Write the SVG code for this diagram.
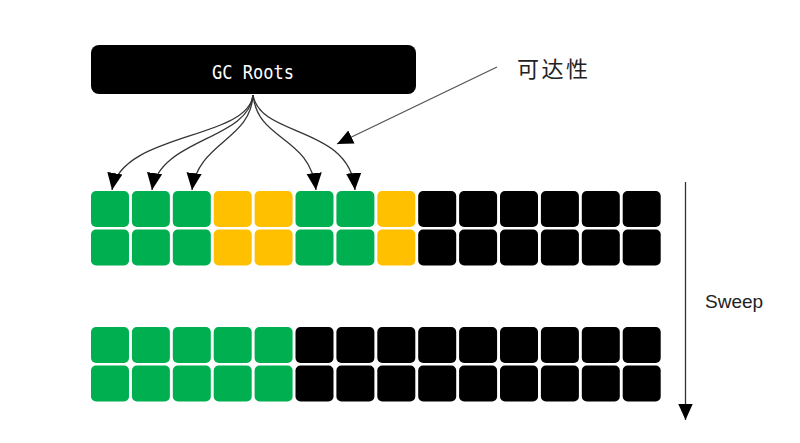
<svg xmlns="http://www.w3.org/2000/svg" width="800" height="443" viewBox="0 0 800 443">
<style>
.g{fill:#00B050}
.y{fill:#FFC000}
.k{fill:#000000}
.conn{fill:none;stroke:#333;stroke-width:1.3}
.ptr{fill:none;stroke:#555;stroke-width:1.3}
</style>
<defs>
<marker id="ah" viewBox="0 0 10 10" refX="10" refY="5" markerWidth="17" markerHeight="17" markerUnits="userSpaceOnUse" orient="auto"><path d="M0,0.5 L10,5 L0,9.5 z" fill="#000"/></marker>
<marker id="ah2" viewBox="0 0 10 10" refX="10" refY="5" markerWidth="16" markerHeight="16" markerUnits="userSpaceOnUse" orient="auto"><path d="M0,0.5 L10,5 L0,9.5 z" fill="#000"/></marker>
</defs>
<rect width="800" height="443" fill="#fff"/>
<g id="gc-roots">
<rect x="91" y="45" width="325" height="49" rx="8" fill="#000"/>
<text x="212" y="79" fill="#fff" font-family="DejaVu Sans Mono, Liberation Mono, monospace" font-size="19" textLength="82" lengthAdjust="spacingAndGlyphs">GC Roots</text>
</g>
<g id="label-reachability">
<text x="517" y="77" fill="#222" font-family="Noto Sans CJK SC, sans-serif" font-size="22" letter-spacing="2.5">可达性</text>
</g>
<g id="heap-before">
<rect class="g" x="91" y="191" width="38" height="36" rx="5"/>
<rect class="g" x="131.9" y="191" width="38" height="36" rx="5"/>
<rect class="g" x="172.8" y="191" width="38" height="36" rx="5"/>
<rect class="y" x="213.7" y="191" width="38" height="36" rx="5"/>
<rect class="y" x="254.6" y="191" width="38" height="36" rx="5"/>
<rect class="g" x="295.5" y="191" width="38" height="36" rx="5"/>
<rect class="g" x="336.4" y="191" width="38" height="36" rx="5"/>
<rect class="y" x="377.3" y="191" width="38" height="36" rx="5"/>
<rect class="k" x="418.2" y="191" width="38" height="36" rx="5"/>
<rect class="k" x="459.1" y="191" width="38" height="36" rx="5"/>
<rect class="k" x="500" y="191" width="38" height="36" rx="5"/>
<rect class="k" x="540.9" y="191" width="38" height="36" rx="5"/>
<rect class="k" x="581.8" y="191" width="38" height="36" rx="5"/>
<rect class="k" x="622.7" y="191" width="38" height="36" rx="5"/>
<rect class="g" x="91" y="229.5" width="38" height="36" rx="5"/>
<rect class="g" x="131.9" y="229.5" width="38" height="36" rx="5"/>
<rect class="g" x="172.8" y="229.5" width="38" height="36" rx="5"/>
<rect class="y" x="213.7" y="229.5" width="38" height="36" rx="5"/>
<rect class="y" x="254.6" y="229.5" width="38" height="36" rx="5"/>
<rect class="g" x="295.5" y="229.5" width="38" height="36" rx="5"/>
<rect class="g" x="336.4" y="229.5" width="38" height="36" rx="5"/>
<rect class="y" x="377.3" y="229.5" width="38" height="36" rx="5"/>
<rect class="k" x="418.2" y="229.5" width="38" height="36" rx="5"/>
<rect class="k" x="459.1" y="229.5" width="38" height="36" rx="5"/>
<rect class="k" x="500" y="229.5" width="38" height="36" rx="5"/>
<rect class="k" x="540.9" y="229.5" width="38" height="36" rx="5"/>
<rect class="k" x="581.8" y="229.5" width="38" height="36" rx="5"/>
<rect class="k" x="622.7" y="229.5" width="38" height="36" rx="5"/>
</g>
<g id="heap-after">
<rect class="g" x="91" y="327" width="38" height="36" rx="5"/>
<rect class="g" x="131.9" y="327" width="38" height="36" rx="5"/>
<rect class="g" x="172.8" y="327" width="38" height="36" rx="5"/>
<rect class="g" x="213.7" y="327" width="38" height="36" rx="5"/>
<rect class="g" x="254.6" y="327" width="38" height="36" rx="5"/>
<rect class="k" x="295.5" y="327" width="38" height="36" rx="5"/>
<rect class="k" x="336.4" y="327" width="38" height="36" rx="5"/>
<rect class="k" x="377.3" y="327" width="38" height="36" rx="5"/>
<rect class="k" x="418.2" y="327" width="38" height="36" rx="5"/>
<rect class="k" x="459.1" y="327" width="38" height="36" rx="5"/>
<rect class="k" x="500" y="327" width="38" height="36" rx="5"/>
<rect class="k" x="540.9" y="327" width="38" height="36" rx="5"/>
<rect class="k" x="581.8" y="327" width="38" height="36" rx="5"/>
<rect class="k" x="622.7" y="327" width="38" height="36" rx="5"/>
<rect class="g" x="91" y="365.5" width="38" height="36" rx="5"/>
<rect class="g" x="131.9" y="365.5" width="38" height="36" rx="5"/>
<rect class="g" x="172.8" y="365.5" width="38" height="36" rx="5"/>
<rect class="g" x="213.7" y="365.5" width="38" height="36" rx="5"/>
<rect class="g" x="254.6" y="365.5" width="38" height="36" rx="5"/>
<rect class="k" x="295.5" y="365.5" width="38" height="36" rx="5"/>
<rect class="k" x="336.4" y="365.5" width="38" height="36" rx="5"/>
<rect class="k" x="377.3" y="365.5" width="38" height="36" rx="5"/>
<rect class="k" x="418.2" y="365.5" width="38" height="36" rx="5"/>
<rect class="k" x="459.1" y="365.5" width="38" height="36" rx="5"/>
<rect class="k" x="500" y="365.5" width="38" height="36" rx="5"/>
<rect class="k" x="540.9" y="365.5" width="38" height="36" rx="5"/>
<rect class="k" x="581.8" y="365.5" width="38" height="36" rx="5"/>
<rect class="k" x="622.7" y="365.5" width="38" height="36" rx="5"/>
</g>
<g id="label-sweep">
<text x="705" y="308" fill="#222" font-family="Liberation Sans, Arial, sans-serif" font-size="19">Sweep</text>
</g>
<g id="connectors">
<path class="conn" d="M253,95 C248,140 122,132 112,190" marker-end="url(#ah)"/>
<path class="conn" d="M253,95 C249,140 160,138 152,190" marker-end="url(#ah)"/>
<path class="conn" d="M253,95 C251,140 198,142 192,190" marker-end="url(#ah)"/>
<path class="conn" d="M253,95 C258,142 310,135 316,190" marker-end="url(#ah)"/>
<path class="conn" d="M253,95 C260,138 350,125 355,190" marker-end="url(#ah)"/>
<path class="ptr" d="M497,67 L337,144" marker-end="url(#ah2)"/>
<path class="conn" d="M685.5,182 L685.5,420" stroke="#222" marker-end="url(#ah2)"/>
</g>
</svg>
